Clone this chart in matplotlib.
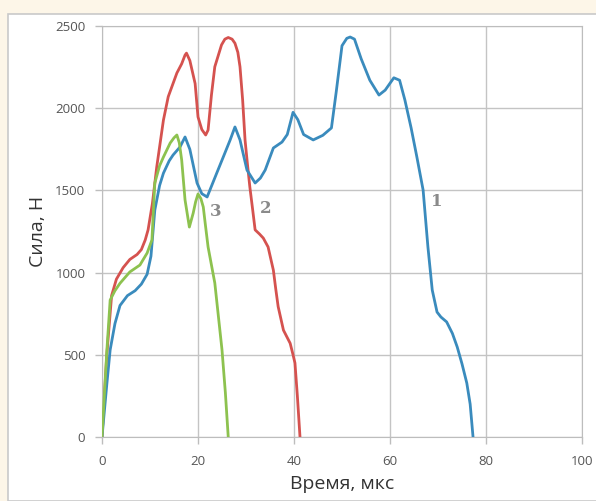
import matplotlib.pyplot as plt
from matplotlib.patches import Rectangle

# curve 1 (blue)
t1 = [0, 1, 1.7, 2.7, 3.75, 5.3, 6.9, 8.2, 9.4, 10.2, 11, 12, 12.8, 14, 14.8, 16.25, 17.3, 18.3,
      19.8, 20.8, 21.9, 23.9, 25.5, 26.7, 27.7, 28.75, 30.2, 31.9, 33, 34, 35.7, 37.5, 38.6, 39.8,
      40.8, 42, 44, 46, 47.8, 48.8, 50, 51, 51.7, 52.6, 54, 55.8, 57.7, 59, 60.8, 62, 63.1, 64.4,
      65.6, 66.9, 67.9, 68.8, 69.8, 70.6, 71.8, 73, 74, 75, 76, 76.7, 77.3]
f1 = [0, 320, 530, 690, 800, 860, 890, 930, 990, 1100, 1380, 1530, 1605, 1680, 1715, 1764, 1825, 1750,
      1545, 1480, 1460, 1605, 1720, 1807, 1886, 1807, 1624, 1545, 1575, 1624, 1758, 1794, 1840, 1975,
      1930, 1840, 1807, 1835, 1880, 2100, 2380, 2425, 2433, 2420, 2300, 2170, 2080, 2110, 2185, 2170, 2050, 1880,
      1703, 1502, 1156, 894, 760, 730, 700, 630, 548, 445, 328, 200, 0]

# curve 2 (red)
t2 = [0, 1, 2, 3, 4.4, 5.8, 7.3, 8.2, 9, 9.6, 10.5, 11.4, 12.8, 13.8, 15.6, 16.6, 17.3, 17.6, 18.3,
      19.4, 20, 20.8, 21.6, 22.1, 22.8, 23.5, 24.9, 25.6, 26.3, 27.1, 27.7, 28.3, 28.75, 29.3, 29.8,
      30.3, 30.8, 31.4, 31.9, 32.8, 33.6, 34.6, 35.7, 36.2, 36.7, 37.8, 39.2, 39.8, 40.2, 40.7, 41.25]
f2 = [0, 500, 860, 960, 1030, 1080, 1110, 1140, 1198, 1260, 1420, 1642, 1928, 2070, 2214, 2270, 2323, 2335, 2290,
      2150, 1947, 1870, 1837, 1867, 2080, 2252, 2385, 2420, 2430, 2420, 2395, 2340, 2252, 2050, 1807,
      1660, 1521, 1380, 1260, 1235, 1210, 1156, 1015, 900, 793, 650, 570, 500, 450, 250, 0]

# curve 3 (green)
t3 = [0, 1, 1.7, 2.7, 3.75, 5.8, 7.9, 9.4, 10.4, 11, 12, 12.8, 14.2, 15, 15.6, 16.1, 16.6, 17.3, 18.2,
      19, 19.5, 20, 20.6, 21.1, 21.5, 22.1, 23.5, 25, 25.7, 26.3]
f3 = [0, 520, 833, 890, 935, 1004, 1046, 1119, 1198, 1545, 1650, 1703, 1788, 1820, 1837, 1790, 1685, 1442, 1277,
      1362, 1430, 1478, 1450, 1399, 1300, 1156, 937, 530, 270, 0]

labels = ["1", "2", "3"]
label_pos = [(69.8, 1430), (34.2, 1390), (23.7, 1370)]

fig = plt.figure(figsize=(5.96, 5.01), dpi=100)
fig.patch.set_facecolor("#fdf6e8")
panel = Rectangle((8 / 596, 0), 1, 1 - 14 / 501, transform=fig.transFigure,
                  facecolor="white", edgecolor="#c9c9c9", linewidth=1.2, zorder=-10)
fig.patches.append(panel)

ax = fig.add_axes([102 / 596, 1 - 437 / 501, 480 / 596, 411 / 501])
ax.set_zorder(5)
ax.set_facecolor("white")
ax.plot(t1, f1, color="#3a8bbd", linewidth=2.0, solid_joinstyle="round", zorder=3)
ax.plot(t2, f2, color="#d5524f", linewidth=2.0, solid_joinstyle="round", zorder=2)
ax.plot(t3, f3, color="#8dc24f", linewidth=2.0, solid_joinstyle="round", zorder=4)

for lab, (x, y) in zip(labels, label_pos):
    ax.text(x, y, lab, fontsize=12, family="DejaVu Serif", fontweight="bold", color="#8a8a8a",
            ha="center", va="center")

ax.set_xlim(0, 100)
ax.set_ylim(0, 2500)
ax.set_xticks([0, 20, 40, 60, 80, 100])
ax.set_yticks([0, 500, 1000, 1500, 2000, 2500])
ax.grid(True, color="#c4c4c4", linewidth=1)
ax.set_axisbelow(True)
for s in ax.spines.values():
    s.set_color("#bdbdbd")
ax.tick_params(colors="#bdbdbd", labelcolor="#555555", labelsize=9.5, length=5, width=1)
ax.tick_params(axis="x", pad=8)
ax.tick_params(axis="y", pad=7)
for lbl in ax.get_xticklabels() + ax.get_yticklabels():
    lbl.set_family("Open Sans")

ax.set_xlabel("Время, мкс", fontsize=14, family="Open Sans", color="#333333", labelpad=5)
ax.set_ylabel("Сила, Н", fontsize=14, family="Open Sans", color="#333333", labelpad=6)

plt.savefig("out.png", dpi=100, facecolor=fig.get_facecolor())
